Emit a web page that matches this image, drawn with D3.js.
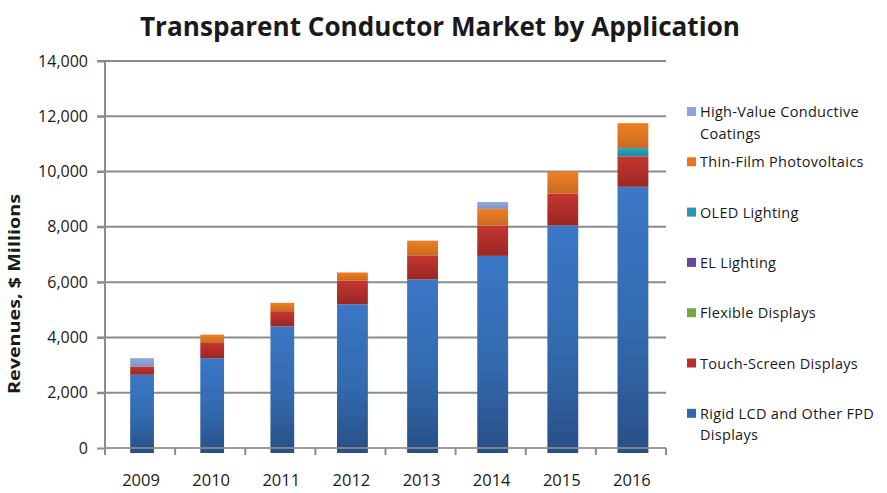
<!DOCTYPE html>
<html>
<head>
<meta charset="utf-8">
<script src="https://cdn.jsdelivr.net/npm/d3@7"></script>
<style>
  html, body { margin: 0; padding: 0; background: #ffffff; }
  svg { display: block; }
  text { font-family: "Open Sans", "Liberation Sans", sans-serif; fill: #1a1a1a; }
</style>
</head>
<body>
<svg id="chart" width="887" height="493"></svg>
<script>
// ---- data ----
const categories = ["2009", "2010", "2011", "2012", "2013", "2014", "2015", "2016"];
const rigidLCD      = [2650, 3250, 4400, 5200, 6100, 6950, 8050, 9450];
const touchScreen   = [300, 550, 550, 850, 850, 1100, 1150, 1100];
const flexible      = [0, 0, 0, 0, 0, 0, 0, 0];
const elLighting    = [0, 0, 0, 0, 0, 0, 0, 0];
const oledLighting  = [0, 0, 0, 0, 0, 0, 0, 300];
const thinFilmPV    = [0, 300, 300, 300, 550, 600, 800, 900];
const highValue     = [300, 0, 0, 0, 0, 250, 0, 0];
const yTicks = [0, 2000, 4000, 6000, 8000, 10000, 12000, 14000];

const seriesNames = ["Rigid LCD and Other FPD Displays", "Touch-Screen Displays", "Flexible Displays",
  "EL Lighting", "OLED Lighting", "Thin-Film Photovoltaics", "High-Value Conductive Coatings"];
const seriesValues = [rigidLCD, touchScreen, flexible, elLighting, oledLighting, thinFilmPV, highValue];
const seriesColors = [
  ["#3d79c8", "#2a5590"],
  ["#c5352f", "#9a2723"],
  ["#8db44e", "#6f9238"],
  ["#7455a6", "#58397f"],
  ["#2ba3bd", "#1f8aa0"],
  ["#f07f20", "#c86a22"],
  ["#93a9dc", "#7c94cb"]
];
const legendColors = ["#3565ab", "#b8302b", "#7da443", "#66479a", "#2796b0", "#e8761e", "#8ea2d6"];

// ---- setup ----
const svg = d3.select("#chart");
const rows = categories.map((c, i) => {
  const r = { cat: c };
  seriesNames.forEach((s, j) => r[s] = seriesValues[j][i]);
  return r;
});
const stacked = d3.stack().keys(seriesNames)(rows);

const x = d3.scaleBand().domain(categories).range([105, 666]).paddingInner(0.56).paddingOuter(0.28);
const y = d3.scaleLinear().domain([0, 14000]).range([448, 61]);

// gradients
const defs = svg.append("defs");
seriesNames.forEach((s, j) => {
  const g = defs.append("linearGradient").attr("id", "g" + j)
    .attr("x1", 0).attr("y1", 0).attr("x2", 0).attr("y2", 1);
  g.append("stop").attr("offset", "0%").attr("stop-color", seriesColors[j][0]);
  g.append("stop").attr("offset", "100%").attr("stop-color", seriesColors[j][1]);
});
const gb = defs.append("linearGradient").attr("id", "gBlue")
  .attr("x1", 0).attr("y1", 0).attr("x2", 0).attr("y2", 1);
gb.append("stop").attr("offset", "0%").attr("stop-color", "#3b77c6");
gb.append("stop").attr("offset", "55%").attr("stop-color", "#336aae");
gb.append("stop").attr("offset", "100%").attr("stop-color", "#284f86");

// title
svg.append("text")
  .attr("x", 440).attr("y", 36)
  .attr("text-anchor", "middle")
  .attr("font-size", 27).attr("font-weight", "bold")
  .attr("textLength", 600).attr("lengthAdjust", "spacingAndGlyphs")
  .text("Transparent Conductor Market by Application");

// gridlines
svg.append("g").selectAll("line").data(yTicks.filter(d => d > 0)).join("line")
  .attr("x1", 97).attr("x2", 666)
  .attr("y1", d => y(d)).attr("y2", d => y(d))
  .attr("stroke", "#8c8c8c").attr("stroke-width", 2);

// y axis
const yAxis = d3.axisLeft(y).tickValues(yTicks).tickSize(8).tickPadding(9)
  .tickFormat(d3.format(","));
const yg = svg.append("g").attr("transform", "translate(105,0)").call(yAxis);
yg.select(".domain").remove();
yg.selectAll(".tick line").attr("stroke", "#8c8c8c").attr("stroke-width", 2);
yg.selectAll(".tick text").attr("font-size", 16).attr("fill", "#1a1a1a")
  .attr("font-family", "\"Open Sans\", sans-serif");
svg.append("line").attr("x1", 105).attr("x2", 105).attr("y1", y(14000)).attr("y2", 455)
  .attr("stroke", "#8c8c8c").attr("stroke-width", 2);

// bars
const narrow = new Set(["2009", "2010", "2011"]);
const bw = d => narrow.has(d.data.cat) ? x.bandwidth() * 0.77 : x.bandwidth();
const bx = d => x(d.data.cat) + (x.bandwidth() - bw(d)) / 2 + 2;
stacked.forEach((layer, j) => {
  svg.append("g").selectAll("rect").data(layer.filter(d => d[1] > d[0])).join("rect")
    .attr("x", d => bx(d))
    .attr("width", d => bw(d))
    .attr("y", d => y(d[1]))
    .attr("height", d => (j === 0 ? y(d[0]) + 5 : y(d[0])) - y(d[1]))
    .attr("fill", j === 0 ? "url(#gBlue)" : "url(#g" + j + ")");
});

// x axis line and ticks
svg.append("line").attr("x1", 105).attr("x2", 666).attr("y1", y(0)).attr("y2", y(0))
  .attr("stroke", "#8c8c8c").attr("stroke-width", 2).attr("stroke-opacity", 0.85);
const tickXs = d3.range(categories.length + 1).map(i => 105 + i * (561 / categories.length));
svg.append("g").selectAll("line").data(tickXs).join("line")
  .attr("x1", d => d).attr("x2", d => d).attr("y1", y(0)).attr("y2", 455)
  .attr("stroke", "#8c8c8c").attr("stroke-width", 2);

svg.append("g").selectAll("text").data(categories).join("text")
  .attr("x", d => x(d) + x.bandwidth() / 2 + 1)
  .attr("y", 486)
  .attr("text-anchor", "middle")
  .attr("font-size", 16.5)
  .text(d => d);

// y label
svg.append("text")
  .attr("transform", "translate(20,294) rotate(-90)")
  .attr("text-anchor", "middle")
  .attr("font-size", 16).attr("font-weight", "bold")
  .attr("textLength", 200).attr("lengthAdjust", "spacingAndGlyphs")
  .text("Revenues, $ Millions");

// legend (top to bottom: reverse order)
const legendItems = seriesNames.map((s, j) => ({ name: s, color: legendColors[j] })).reverse();
const legendLines = {
  "High-Value Conductive Coatings": ["High-Value Conductive", "Coatings"],
  "Rigid LCD and Other FPD Displays": ["Rigid LCD and Other FPD", "Displays"]
};
const lg = svg.append("g");
legendItems.forEach((it, i) => {
  const cy = 112 + i * 50.3;
  lg.append("rect").attr("x", 687).attr("y", cy - 5).attr("width", 9).attr("height", 9)
    .attr("fill", it.color);
  const lines = legendLines[it.name] || [it.name];
  const t = lg.append("text").attr("x", 700).attr("y", cy + 5).attr("font-size", 14.5)
    .attr("letter-spacing", 0.3);
  lines.forEach((ln, k) => {
    t.append("tspan").attr("x", 700).attr("dy", k === 0 ? 0 : 21.5).text(ln);
  });
});
</script>
</body>
</html>
